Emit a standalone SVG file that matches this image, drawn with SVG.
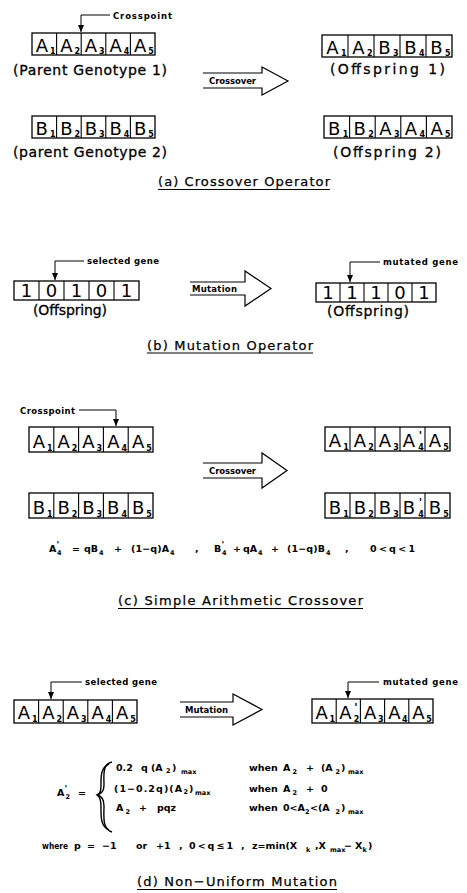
<svg xmlns="http://www.w3.org/2000/svg" width="467" height="893" viewBox="0 0 467 893">
<style>
.bx{fill:none;stroke:#000;stroke-width:1.3}
.dv{stroke:#000;stroke-width:1.1}
.gl{font-family:"DejaVu Sans","Liberation Sans",sans-serif;font-size:18px;text-anchor:middle;fill:#000}
.sb{font-family:"DejaVu Sans","Liberation Sans",sans-serif;font-size:8px;font-weight:bold;text-anchor:middle;fill:#000}
.pr{font-family:"DejaVu Sans","Liberation Sans",sans-serif;font-size:11px;font-weight:bold;text-anchor:middle;fill:#000}
.lbl{font-family:"DejaVu Sans","Liberation Sans",sans-serif;font-size:14px;fill:#000;stroke:#000;stroke-width:0.3}
.sm{font-family:"DejaVu Sans","Liberation Sans",sans-serif;font-size:8.5px;font-weight:bold;fill:#000}
.fm{font-family:"DejaVu Sans","Liberation Sans",sans-serif;font-size:9.5px;font-weight:bold;fill:#000}
.fs{font-family:"DejaVu Sans","Liberation Sans",sans-serif;font-size:6.5px;font-weight:bold;fill:#000}
.fp{font-family:"DejaVu Sans","Liberation Sans",sans-serif;font-size:9px;font-weight:bold;fill:#000}
.ttl{font-family:"DejaVu Sans","Liberation Sans",sans-serif;font-size:13px;fill:#000;stroke:#000;stroke-width:0.25}
.ul{stroke:#000;stroke-width:1.2}
.blk{fill:#fff;stroke:#000;stroke-width:1.2;stroke-linejoin:miter}
.ptr{fill:none;stroke:#000;stroke-width:1;marker-end:url(#ah)}
.brc{fill:none;stroke:#000;stroke-width:1.4}
</style>
<defs>
<marker id="ah" markerUnits="userSpaceOnUse" markerWidth="6" markerHeight="7" refX="3" refY="7" orient="0">
<path d="M0,0 L6,0 L3,7 z" fill="#000"/>
</marker>
</defs>

<!-- (a) Crossover operator -->
<g id="a-parent1" transform="translate(32,33)">
<rect class="bx" x="0" y="0" width="123" height="22"/>
<line class="dv" x1="24.6" y1="0" x2="24.6" y2="22"/><line class="dv" x1="49.2" y1="0" x2="49.2" y2="22"/><line class="dv" x1="73.8" y1="0" x2="73.8" y2="22"/><line class="dv" x1="98.4" y1="0" x2="98.4" y2="22"/>
<text class="gl" x="9.8" y="18.5">A</text><text class="sb" x="20.7" y="20.5">1</text>
<text class="gl" x="34.4" y="18.5">A</text><text class="sb" x="45.3" y="20.5">2</text>
<text class="gl" x="59" y="18.5">A</text><text class="sb" x="69.9" y="20.5">3</text>
<text class="gl" x="83.6" y="18.5">A</text><text class="sb" x="94.5" y="20.5">4</text>
<text class="gl" x="108.2" y="18.5">A</text><text class="sb" x="119.1" y="20.5">5</text>
</g>
<g id="a-parent1-label"><text class="lbl" x="13" y="75" textLength="154" lengthAdjust="spacing">(Parent Genotype 1)</text></g>

<g id="a-parent2" transform="translate(32,116)">
<rect class="bx" x="0" y="0" width="123" height="22"/>
<line class="dv" x1="24.6" y1="0" x2="24.6" y2="22"/><line class="dv" x1="49.2" y1="0" x2="49.2" y2="22"/><line class="dv" x1="73.8" y1="0" x2="73.8" y2="22"/><line class="dv" x1="98.4" y1="0" x2="98.4" y2="22"/>
<text class="gl" x="9.8" y="18.5">B</text><text class="sb" x="20.7" y="20.5">1</text>
<text class="gl" x="34.4" y="18.5">B</text><text class="sb" x="45.3" y="20.5">2</text>
<text class="gl" x="59" y="18.5">B</text><text class="sb" x="69.9" y="20.5">3</text>
<text class="gl" x="83.6" y="18.5">B</text><text class="sb" x="94.5" y="20.5">4</text>
<text class="gl" x="108.2" y="18.5">B</text><text class="sb" x="119.1" y="20.5">5</text>
</g>
<g id="a-parent2-label"><text class="lbl" x="13" y="157" textLength="154" lengthAdjust="spacing">(parent Genotype 2)</text></g>

<g id="a-offspring1" transform="translate(322,35)">
<rect class="bx" x="0" y="0" width="130" height="22"/>
<line class="dv" x1="26" y1="0" x2="26" y2="22"/><line class="dv" x1="52" y1="0" x2="52" y2="22"/><line class="dv" x1="78" y1="0" x2="78" y2="22"/><line class="dv" x1="104" y1="0" x2="104" y2="22"/>
<text class="gl" x="10.4" y="18.5">A</text><text class="sb" x="21.8" y="20.5">1</text>
<text class="gl" x="36.4" y="18.5">A</text><text class="sb" x="47.8" y="20.5">2</text>
<text class="gl" x="62.4" y="18.5">B</text><text class="sb" x="73.8" y="20.5">3</text>
<text class="gl" x="88.4" y="18.5">B</text><text class="sb" x="99.8" y="20.5">4</text>
<text class="gl" x="114.4" y="18.5">B</text><text class="sb" x="125.8" y="20.5">5</text>
</g>
<g id="a-offspring1-label"><text class="lbl" x="330" y="74" textLength="115" lengthAdjust="spacing">(Offspring 1)</text></g>

<g id="a-offspring2" transform="translate(324,116)">
<rect class="bx" x="0" y="0" width="128" height="22"/>
<line class="dv" x1="25.6" y1="0" x2="25.6" y2="22"/><line class="dv" x1="51.2" y1="0" x2="51.2" y2="22"/><line class="dv" x1="76.8" y1="0" x2="76.8" y2="22"/><line class="dv" x1="102.4" y1="0" x2="102.4" y2="22"/>
<text class="gl" x="10.2" y="18.5">B</text><text class="sb" x="21.5" y="20.5">1</text>
<text class="gl" x="35.8" y="18.5">B</text><text class="sb" x="47.1" y="20.5">2</text>
<text class="gl" x="61.4" y="18.5">A</text><text class="sb" x="72.7" y="20.5">3</text>
<text class="gl" x="87" y="18.5">A</text><text class="sb" x="98.3" y="20.5">4</text>
<text class="gl" x="112.6" y="18.5">A</text><text class="sb" x="123.9" y="20.5">5</text>
</g>
<g id="a-offspring2-label"><text class="lbl" x="333" y="157" textLength="108" lengthAdjust="spacing">(Offspring 2)</text></g>

<g id="a-crossover-arrow">
<path class="blk" d="M203,73 H262 V67 L288,81 L262,95 V88 H203"/>
<text class="sm" x="209" y="84" textLength="47" lengthAdjust="spacing">Crossover</text>
</g>
<g id="a-crosspoint-label"><text class="sm" x="113" y="18.5" font-size="9.5" textLength="59" lengthAdjust="spacing">Crosspoint</text></g>
<g id="a-title">
<text class="ttl" x="158" y="186" textLength="172" lengthAdjust="spacing">(a) Crossover Operator</text>
<line class="ul" x1="158" y1="189.5" x2="330" y2="189.5"/>
</g>

<!-- (b) Mutation operator -->
<g id="b-offspring" transform="translate(14,281)">
<rect class="bx" x="0" y="0" width="125" height="19"/>
<line class="dv" x1="25" y1="0" x2="25" y2="19"/><line class="dv" x1="50" y1="0" x2="50" y2="19"/><line class="dv" x1="75" y1="0" x2="75" y2="19"/><line class="dv" x1="100" y1="0" x2="100" y2="19"/>
<text class="gl" font-size="16" x="12.5" y="16">1</text>
<text class="gl" font-size="16" x="37.5" y="16">0</text>
<text class="gl" font-size="16" x="62.5" y="16">1</text>
<text class="gl" font-size="16" x="87.5" y="16">0</text>
<text class="gl" font-size="16" x="112.5" y="16">1</text>
</g>
<g id="b-offspring-label"><text class="lbl" x="33" y="315" textLength="74" lengthAdjust="spacing">(Offspring)</text></g>
<g id="b-mutated" transform="translate(316,283)">
<rect class="bx" x="0" y="0" width="120" height="19"/>
<line class="dv" x1="24" y1="0" x2="24" y2="19"/><line class="dv" x1="48" y1="0" x2="48" y2="19"/><line class="dv" x1="72" y1="0" x2="72" y2="19"/><line class="dv" x1="96" y1="0" x2="96" y2="19"/>
<text class="gl" font-size="16" x="12" y="16">1</text>
<text class="gl" font-size="16" x="36" y="16">1</text>
<text class="gl" font-size="16" x="60" y="16">1</text>
<text class="gl" font-size="16" x="84" y="16">0</text>
<text class="gl" font-size="16" x="108" y="16">1</text>
</g>
<g id="b-mutated-label"><text class="lbl" x="327" y="316" textLength="82" lengthAdjust="spacing">(Offspring)</text></g>
<g id="b-mutation-arrow">
<path class="blk" d="M190,282 H245 V271 L271,288.5 L245,306 V295 H190"/>
<text class="sm" x="192" y="292" textLength="45" lengthAdjust="spacing">Mutation</text>
</g>
<g id="b-selected-label"><text class="sm" x="87" y="264" textLength="72" lengthAdjust="spacing">selected gene</text></g>
<g id="b-mutated-gene-label"><text class="sm" x="383" y="265" textLength="75" lengthAdjust="spacing">mutated gene</text></g>
<g id="b-title">
<text class="ttl" x="147" y="350" textLength="166" lengthAdjust="spacing">(b) Mutation Operator</text>
<line class="ul" x1="147" y1="353" x2="313" y2="353"/>
</g>

<!-- (c) Simple arithmetic crossover -->
<g id="c-parent1" transform="translate(29,427)">
<rect class="bx" x="0" y="0" width="124" height="25"/>
<line class="dv" x1="24.8" y1="0" x2="24.8" y2="25"/><line class="dv" x1="49.6" y1="0" x2="49.6" y2="25"/><line class="dv" x1="74.4" y1="0" x2="74.4" y2="25"/><line class="dv" x1="99.2" y1="0" x2="99.2" y2="25"/>
<text class="gl" font-size="19" x="9.9" y="20.5">A</text><text class="sb" x="20.8" y="23.5">1</text>
<text class="gl" font-size="19" x="34.7" y="20.5">A</text><text class="sb" x="45.6" y="23.5">2</text>
<text class="gl" font-size="19" x="59.5" y="20.5">A</text><text class="sb" x="70.4" y="23.5">3</text>
<text class="gl" font-size="19" x="84.3" y="20.5">A</text><text class="sb" x="95.2" y="23.5">4</text>
<text class="gl" font-size="19" x="109.1" y="20.5">A</text><text class="sb" x="120" y="23.5">5</text>
</g>
<g id="c-parent2" transform="translate(29,493)">
<rect class="bx" x="0" y="0" width="124" height="25"/>
<line class="dv" x1="24.8" y1="0" x2="24.8" y2="25"/><line class="dv" x1="49.6" y1="0" x2="49.6" y2="25"/><line class="dv" x1="74.4" y1="0" x2="74.4" y2="25"/><line class="dv" x1="99.2" y1="0" x2="99.2" y2="25"/>
<text class="gl" font-size="19" x="9.9" y="20.5">B</text><text class="sb" x="20.8" y="23.5">1</text>
<text class="gl" font-size="19" x="34.7" y="20.5">B</text><text class="sb" x="45.6" y="23.5">2</text>
<text class="gl" font-size="19" x="59.5" y="20.5">B</text><text class="sb" x="70.4" y="23.5">3</text>
<text class="gl" font-size="19" x="84.3" y="20.5">B</text><text class="sb" x="95.2" y="23.5">4</text>
<text class="gl" font-size="19" x="109.1" y="20.5">B</text><text class="sb" x="120" y="23.5">5</text>
</g>
<g id="c-offspring1" transform="translate(325,427)">
<rect class="bx" x="0" y="0" width="125" height="24"/>
<line class="dv" x1="25" y1="0" x2="25" y2="24"/><line class="dv" x1="50" y1="0" x2="50" y2="24"/><line class="dv" x1="75" y1="0" x2="75" y2="24"/><line class="dv" x1="100" y1="0" x2="100" y2="24"/>
<text class="gl" font-size="19" x="10" y="20">A</text><text class="sb" x="21" y="22.5">1</text>
<text class="gl" font-size="19" x="35" y="20">A</text><text class="sb" x="46" y="22.5">2</text>
<text class="gl" font-size="19" x="60" y="20">A</text><text class="sb" x="71" y="22.5">3</text>
<text class="gl" font-size="19" x="84" y="20">A</text><text class="pr" x="95.5" y="12">'</text><text class="sb" x="96" y="22.5">4</text>
<text class="gl" font-size="19" x="110" y="20">A</text><text class="sb" x="121" y="22.5">5</text>
</g>
<g id="c-offspring2" transform="translate(325,493)">
<rect class="bx" x="0" y="0" width="125" height="25"/>
<line class="dv" x1="25" y1="0" x2="25" y2="25"/><line class="dv" x1="50" y1="0" x2="50" y2="25"/><line class="dv" x1="75" y1="0" x2="75" y2="25"/><line class="dv" x1="100" y1="0" x2="100" y2="25"/>
<text class="gl" font-size="19" x="10" y="20.5">B</text><text class="sb" x="21" y="23.5">1</text>
<text class="gl" font-size="19" x="35" y="20.5">B</text><text class="sb" x="46" y="23.5">2</text>
<text class="gl" font-size="19" x="60" y="20.5">B</text><text class="sb" x="71" y="23.5">3</text>
<text class="gl" font-size="19" x="84" y="20.5">B</text><text class="pr" x="95.5" y="12.5">'</text><text class="sb" x="96" y="23.5">4</text>
<text class="gl" font-size="19" x="110" y="20.5">B</text><text class="sb" x="121" y="23.5">5</text>
</g>
<g id="c-crossover-arrow">
<path class="blk" d="M203,463 H262 V453 L287,470.5 L262,488 V478 H203"/>
<text class="sm" x="209" y="474" textLength="47" lengthAdjust="spacing">Crossover</text>
</g>
<g id="c-crosspoint-label"><text class="sm" x="20" y="414" font-size="9" textLength="55" lengthAdjust="spacing">Crosspoint</text></g>
<g id="c-formula">
<text class="fm" x="49" y="552">A</text><text class="fp" x="56.5" y="548">'</text><text class="fs" x="57" y="554.5">4</text>
<text class="fm" x="72" y="552">=</text>
<text class="fm" x="84" y="552">qB</text><text class="fs" x="99" y="554.5">4</text>
<text class="fm" x="114" y="552">+</text>
<text class="fm" x="131" y="552" textLength="38" lengthAdjust="spacing">(1−q)A</text><text class="fs" x="170" y="554.5">4</text>
<text class="fm" x="195" y="552">,</text>
<text class="fm" x="214" y="552">B</text><text class="fp" x="221.5" y="548">'</text><text class="fs" x="222" y="554.5">4</text>
<text class="fm" x="233" y="552">+</text>
<text class="fm" x="243" y="552">qA</text><text class="fs" x="258" y="554.5">4</text>
<text class="fm" x="271" y="552">+</text>
<text class="fm" x="287" y="552" textLength="38" lengthAdjust="spacing">(1−q)B</text><text class="fs" x="326" y="554.5">4</text>
<text class="fm" x="345" y="552">,</text>
<text class="fm" x="370" y="552" textLength="45" lengthAdjust="spacing">0&lt;q&lt;1</text>
</g>
<g id="c-title">
<text class="ttl" x="118" y="605" textLength="245" lengthAdjust="spacing">(c) Simple Arithmetic Crossover</text>
<line class="ul" x1="118" y1="608.5" x2="363" y2="608.5"/>
</g>

<!-- (d) Non-uniform mutation -->
<g id="d-parent" transform="translate(14,700)">
<rect class="bx" x="0" y="0" width="123" height="23"/>
<line class="dv" x1="24.6" y1="0" x2="24.6" y2="23"/><line class="dv" x1="49.2" y1="0" x2="49.2" y2="23"/><line class="dv" x1="73.8" y1="0" x2="73.8" y2="23"/><line class="dv" x1="98.4" y1="0" x2="98.4" y2="23"/>
<text class="gl" font-size="19" x="9.8" y="19">A</text><text class="sb" x="20.7" y="21.5">1</text>
<text class="gl" font-size="19" x="34.4" y="19">A</text><text class="sb" x="45.3" y="21.5">2</text>
<text class="gl" font-size="19" x="59" y="19">A</text><text class="sb" x="69.9" y="21.5">3</text>
<text class="gl" font-size="19" x="83.6" y="19">A</text><text class="sb" x="94.5" y="21.5">4</text>
<text class="gl" font-size="19" x="108.2" y="19">A</text><text class="sb" x="119.1" y="21.5">5</text>
</g>
<g id="d-offspring" transform="translate(312,699)">
<rect class="bx" x="0" y="0" width="121" height="24"/>
<line class="dv" x1="24.2" y1="0" x2="24.2" y2="24"/><line class="dv" x1="48.4" y1="0" x2="48.4" y2="24"/><line class="dv" x1="72.6" y1="0" x2="72.6" y2="24"/><line class="dv" x1="96.8" y1="0" x2="96.8" y2="24"/>
<text class="gl" font-size="19" x="9.7" y="20">A</text><text class="sb" x="20.3" y="22.5">1</text>
<text class="gl" font-size="19" x="33.5" y="20">A</text><text class="pr" x="44" y="12">'</text><text class="sb" x="44.5" y="22.5">2</text>
<text class="gl" font-size="19" x="58.1" y="20">A</text><text class="sb" x="68.7" y="22.5">3</text>
<text class="gl" font-size="19" x="82.3" y="20">A</text><text class="sb" x="92.9" y="22.5">4</text>
<text class="gl" font-size="19" x="106.5" y="20">A</text><text class="sb" x="117.1" y="22.5">5</text>
</g>
<g id="d-mutation-arrow">
<path class="blk" d="M180,702 H233 V694 L262,709.5 L233,725 V717 H180"/>
<text class="sm" x="185" y="713" textLength="43" lengthAdjust="spacing">Mutation</text>
</g>
<g id="d-selected-label"><text class="sm" x="85" y="685" textLength="72" lengthAdjust="spacing">selected gene</text></g>
<g id="d-mutated-gene-label"><text class="sm" x="383" y="685" textLength="75" lengthAdjust="spacing">mutated gene</text></g>
<g id="d-formula">
<text class="fm" x="57" y="796">A</text><text class="fp" x="64.5" y="792">'</text><text class="fs" x="65.5" y="798.5">2</text>
<text class="fm" x="78" y="796">=</text>
<path class="brc" d="M112,762 C102,764 104,776 104,785 C104,791 102,794 97,795 C102,796 104,800 104,806 C104,816 102,829 112,832"/>
<path class="brc" d="M109,764 C100,768 101,778 101,786 C101,791 100,794 97,795 C100,797 101,801 101,806 C101,815 100,826 109,830" stroke-width="0.8"/>
<text class="fm" x="116" y="771">0.2</text><text class="fm" x="141" y="771">q</text><text class="fm" x="151" y="771">(A</text><text class="fs" x="166" y="773">2</text><text class="fm" x="172" y="771">)</text><text class="fs" x="181" y="774">max</text>
<text class="fm" x="114" y="792" textLength="68" lengthAdjust="spacing">(1−0.2q)(A</text><text class="fs" x="183.5" y="794">2</text><text class="fm" x="189" y="792">)</text><text class="fs" x="195" y="795">max</text>
<text class="fm" x="116" y="811">A</text><text class="fs" x="125.5" y="813.5">2</text><text class="fm" x="139" y="811">+</text><text class="fm" x="157" y="811">pqz</text>
<text class="fm" x="249" y="771">when</text><text class="fm" x="283" y="771">A</text><text class="fs" x="292.5" y="773.5">2</text><text class="fm" x="306" y="771">+</text><text class="fm" x="321" y="771">(A</text><text class="fs" x="335.5" y="773.5">2</text><text class="fm" x="341" y="771">)</text><text class="fs" x="348" y="774">max</text>
<text class="fm" x="249" y="792">when</text><text class="fm" x="283" y="792">A</text><text class="fs" x="292.5" y="794.5">2</text><text class="fm" x="306" y="792">+</text><text class="fm" x="321" y="792">0</text>
<text class="fm" x="249" y="811">when</text><text class="fm" x="283" y="811">0&lt;A</text><text class="fs" x="305" y="813.5">2</text><text class="fm" x="310" y="811">&lt;(A</text><text class="fs" x="335.5" y="813.5">2</text><text class="fm" x="341" y="811">)</text><text class="fs" x="348" y="814">max</text>
<text class="fm" x="42" y="849" textLength="26" lengthAdjust="spacingAndGlyphs">where</text>
<text class="fm" x="74" y="849">p</text><text class="fm" x="87" y="849">=</text><text class="fm" x="102" y="849">−1</text>
<text class="fm" x="136" y="849">or</text><text class="fm" x="156" y="849">+1</text><text class="fm" x="179" y="849">,</text>
<text class="fm" x="189" y="849" textLength="44" lengthAdjust="spacing">0&lt;q≤1</text><text class="fm" x="241" y="849">,</text>
<text class="fm" x="252" y="849">z=min(X</text><text class="fs" x="306" y="851.5">k</text>
<text class="fm" x="315" y="849">,X</text><text class="fs" x="330" y="852">max</text><text class="fm" x="344" y="849">−</text><text class="fm" x="355" y="849">X</text><text class="fs" x="362.5" y="851.5">k</text><text class="fm" x="368" y="849">)</text>
</g>
<g id="d-title">
<text class="ttl" x="137" y="886" textLength="200" lengthAdjust="spacing">(d) Non−Uniform Mutation</text>
<line class="ul" x1="137" y1="889.5" x2="337" y2="889.5"/>
</g>

<g id="connectors">
<polyline class="ptr" points="110,15 81,15 81,32"/>
<polyline class="ptr" points="84,261 55,261 55,280"/>
<polyline class="ptr" points="380,262 350,262 350,282"/>
<polyline class="ptr" points="79,410 116,410 116,426"/>
<polyline class="ptr" points="82,682 51,682 51,699"/>
<polyline class="ptr" points="379,682 348,682 348,698"/>
</g>
</svg>
